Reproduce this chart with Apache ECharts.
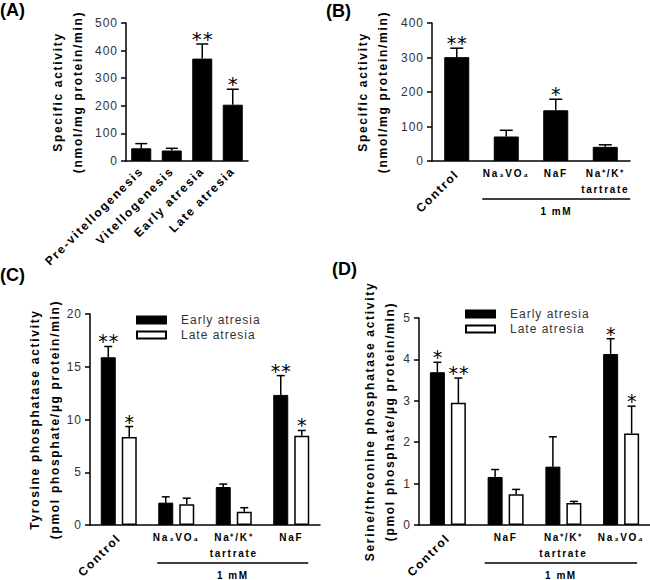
<!DOCTYPE html>
<html><head><meta charset="utf-8">
<script src="https://cdn.jsdelivr.net/npm/echarts@6/dist/echarts.min.js"></script>
<style>
html,body{margin:0;padding:0;background:#fff;}
#c{width:650px;height:580px;}
#c text{letter-spacing:1px;}
#c text[style*="bold"]{letter-spacing:1.7px;}
#c text[style*="bold 10px"]{letter-spacing:1.5px;}
#c text[style*="18px"]{letter-spacing:0;}
#c text[style*="DejaVu"]{letter-spacing:1px;}
</style></head><body><div id="c"></div>
<script>
// ---- Panel A ----
const catsA = ['Pre-vitellogenesis', 'Vitellogenesis', 'Early atresia', 'Late atresia'];
const valsA = [46, 38, 371, 204];
const errA = [17, 8, 53, 56];
const sigA = ['', '', '**', '*'];

// ---- Panel B ----
const catsB = ['Control', 'Na₃VO₄', 'NaF', 'Na⁺/K⁺\ntartrate'];
const valsB = [301, 71, 147, 41];
const errB = [26, 18, 32, 6];
const sigB = ['**', '', '*', ''];

// ---- Panel C ----
const catsC = ['Control', 'Na₃VO₄', 'Na⁺/K⁺\ntartrate', 'NaF'];
const earlyC = [15.9, 2.12, 3.6, 12.33];
const earlyErrC = [1.02, 0.55, 0.28, 1.83];
const lateC = [8.33, 1.96, 1.26, 8.45];
const lateErrC = [1.0, 0.58, 0.38, 0.51];
const earlySigC = ['**', '', '', '**'];
const lateSigC = ['*', '', '', '*'];

// ---- Panel D ----
const catsD = ['Control', 'NaF', 'Na⁺/K⁺\ntartrate', 'Na₃VO₄'];
const earlyD = [3.69, 1.16, 1.41, 4.13];
const earlyErrD = [0.24, 0.18, 0.72, 0.37];
const lateD = [2.95, 0.74, 0.53, 2.21];
const lateErrD = [0.60, 0.12, 0.04, 0.66];
const earlySigD = ['*', '', '', '*'];
const lateSigD = ['**', '', '', '*'];

const seriesNames = ['Early atresia', 'Late atresia'];
const FONT = 'Liberation Sans, Arial, sans-serif';
const STAR_FONT = 'DejaVu Sans, sans-serif';

function yAxisDef(grid, max, interval, name, nameGap) {
  return {
    type: 'value', gridIndex: grid, min: 0, max: max, interval: interval,
    name: name, nameLocation: 'middle', nameRotate: 90, nameGap: nameGap,
    nameTextStyle: { fontSize: 12, fontWeight: 'bold', color: '#000', lineHeight: 20, fontFamily: FONT },
    axisLine: { show: true, lineStyle: { color: '#000', width: 1.5 } },
    axisTick: { show: true, length: 5, lineStyle: { color: '#000', width: 1.5 } },
    axisLabel: { fontSize: 12, color: '#333', margin: 8, fontFamily: FONT },
    splitLine: { show: false }
  };
}
function xMain(grid, cats) {
  return {
    type: 'category', gridIndex: grid, data: cats, position: 'bottom',
    axisLine: { lineStyle: { color: '#000', width: 1.5 } }, axisTick: { show: false },
    axisLabel: { interval: 0, fontSize: 10, fontWeight: 'bold', color: '#000', margin: 4, lineHeight: 16,
      fontFamily: FONT, formatter: function (v, i) { return i === 0 ? '' : v; } }
  };
}
function xCtrl(grid, cats) {
  return {
    type: 'category', gridIndex: grid, data: cats, position: 'bottom',
    axisLine: { show: false }, axisTick: { show: false },
    axisLabel: { interval: 0, rotate: 45, fontSize: 12, fontWeight: 'bold', color: '#000', margin: 11,
      fontFamily: FONT, formatter: function (v, i) { return i === 0 ? v : ''; } }
  };
}
function errSeries(xi, yi, vals, errs, sigs, off, capW, sigSize) {
  return {
    type: 'custom', xAxisIndex: xi, yAxisIndex: yi, z: 5, silent: true,
    data: vals.map(function (v, i) { return [i, v, errs[i]]; }),
    encode: { x: 0, y: 1 },
    renderItem: function (params, api) {
      const i = api.value(0), v = api.value(1), e = api.value(2);
      const p0 = api.coord([i, v]);
      const p1 = api.coord([i, v + e]);
      const x = p0[0] + off;
      const s = sigs[params.dataIndex];
      const children = [
        { type: 'line', shape: { x1: x, y1: p0[1], x2: x, y2: p1[1] }, style: { stroke: '#000', lineWidth: 1.5 } },
        { type: 'line', shape: { x1: x - capW / 2, y1: p1[1], x2: x + capW / 2, y2: p1[1] }, style: { stroke: '#000', lineWidth: 1.5 } }
      ];
      if (s) {
        children.push({ type: 'text', x: x + 0.5, y: p1[1] - 5,
          style: { text: s, fill: '#000', font: sigSize + 'px ' + STAR_FONT, align: 'center', verticalAlign: 'middle' } });
      }
      return { type: 'group', children: children };
    }
  };
}
function bracketSeries(xi, yi, from, to, padL, padR) {
  return {
    type: 'custom', xAxisIndex: xi, yAxisIndex: yi, clip: false, silent: true,
    data: [[from, 0, to]], encode: { x: 0, y: 1 },
    renderItem: function (params, api) {
      const a = api.coord([api.value(0), 0]);
      const b = api.coord([api.value(2), 0]);
      const x1 = a[0] - padL, x2 = b[0] + padR, y = a[1] + 38;
      return { type: 'group', children: [
        { type: 'line', shape: { x1: x1, y1: y, x2: x2, y2: y }, style: { stroke: '#000', lineWidth: 1.5 } },
        { type: 'text', x: (x1 + x2) / 2, y: y + 12,
          style: { text: '1 mM', fill: '#000', font: 'bold 10px ' + FONT, align: 'center', verticalAlign: 'middle' } }
      ] };
    }
  };
}
function bar(xi, yi, name, data, width, dark) {
  return {
    type: 'bar', name: name, xAxisIndex: xi, yAxisIndex: yi, data: data, barWidth: width, barGap: '40%',
    silent: true,
    itemStyle: dark ? { color: '#000', borderColor: '#000', borderWidth: 1 }
                    : { color: '#fff', borderColor: '#000', borderWidth: 1.5 }
  };
}
function legendDef(left, top) {
  return {
    data: seriesNames, left: left, top: top, orient: 'vertical', icon: 'rect', padding: 0,
    itemWidth: 29, itemHeight: 7, itemGap: 1, selectedMode: false,
    textStyle: { fontSize: 12, color: '#333', lineHeight: 14, padding: [0, 0, 0, 10], fontFamily: FONT }
  };
}

const chart = echarts.init(document.getElementById('c'), null, { renderer: 'svg', width: 650, height: 580 });
chart.setOption({
  animation: false,
  backgroundColor: '#fff',
  textStyle: { fontFamily: FONT },
  grid: [
    { left: 126, top: 23, width: 122, height: 138 },
    { left: 432, top: 23, width: 198, height: 138 },
    { left: 90, top: 314, width: 230, height: 211 },
    { left: 419, top: 318, width: 231, height: 207 }
  ],
  legend: [legendDef(136, 313), legendDef(465, 307)],
  xAxis: [
    { type: 'category', gridIndex: 0, data: catsA,
      axisLine: { lineStyle: { color: '#000', width: 1.5 } }, axisTick: { show: false },
      axisLabel: { interval: 0, rotate: 45, fontSize: 12, fontWeight: 'bold', color: '#000', margin: 8, fontFamily: FONT } },
    xMain(1, catsB), xCtrl(1, catsB),
    xMain(2, catsC), xCtrl(2, catsC),
    xMain(3, catsD), xCtrl(3, catsD)
  ],
  yAxis: [
    yAxisDef(0, 500, 100, 'Specific activity\n(nmol/mg protein/min)', 38),
    yAxisDef(1, 400, 100, 'Specific activity\n(nmol/mg protein/min)', 39),
    yAxisDef(2, 20, 5, 'Tyrosine phosphatase activity\n(pmol phosphate/µg protein/min)', 25),
    yAxisDef(3, 5, 1, 'Serine/threonine phosphatase activity\n(pmol phosphate/µg protein/min)', 18)
  ],
  graphic: [
    { type: 'text', left: 0, top: 1, style: { text: '(A)', font: 'bold 18px ' + FONT, fill: '#000' } },
    { type: 'text', left: 326, top: 2, style: { text: '(B)', font: 'bold 18px ' + FONT, fill: '#000' } },
    { type: 'text', left: 0, top: 266, style: { text: '(C)', font: 'bold 18px ' + FONT, fill: '#000' } },
    { type: 'text', left: 332, top: 260, style: { text: '(D)', font: 'bold 18px ' + FONT, fill: '#000' } }
  ],
  series: [
    bar(0, 0, 'A', valsA, 20, true),
    errSeries(0, 0, valsA, errA, sigA, 0, 12, 20),
    bar(1, 1, 'B', valsB, 25, true),
    errSeries(1, 1, valsB, errB, sigB, 0, 13, 19),
    bracketSeries(1, 1, 1, 3, 24, 25),
    bar(3, 2, seriesNames[0], earlyC, 15, true),
    bar(3, 2, seriesNames[1], lateC, 15, false),
    errSeries(3, 2, earlyC, earlyErrC, earlySigC, -10.5, 8, 19),
    errSeries(3, 2, lateC, lateErrC, lateSigC, 10.5, 8, 19),
    bracketSeries(3, 2, 1, 3, 19, 17),
    bar(5, 3, seriesNames[0], earlyD, 15, true),
    bar(5, 3, seriesNames[1], lateD, 15, false),
    errSeries(5, 3, earlyD, earlyErrD, earlySigD, -10.5, 8, 19),
    errSeries(5, 3, lateD, lateErrD, lateSigD, 10.5, 8, 19),
    bracketSeries(5, 3, 1, 3, 21, 16)
  ]
});
</script>
</body></html>
